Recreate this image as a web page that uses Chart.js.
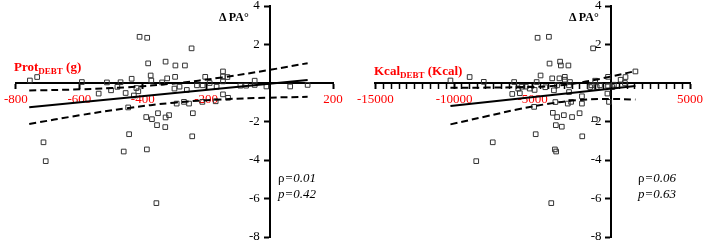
<!DOCTYPE html>
<html>
<head>
<meta charset="utf-8">
<script src="https://cdn.jsdelivr.net/npm/chart.js@4.4.1/dist/chart.umd.min.js"></script>
<style>
  body { margin: 0; background: #fff; }
  #wrap { position: relative; width: 707px; height: 245px; font-family: "Liberation Serif", "Times New Roman", serif; }
  canvas { position: absolute; top: 0; }
  #chart1 { left: 0; }
  #chart2 { left: 353px; }
  .lbl { position: absolute; white-space: nowrap; line-height: 1; }
  .xtitle { color: red; font-weight: bold; font-size: 13px; }
  .xtitle sub { font-size: 9px; vertical-align: -3px; line-height: 0; }
  .ytitle { font-weight: bold; font-size: 12px; color: #000; }
  .stat { font-size: 13px; font-style: italic; color: #000; }
  .stat .rho { font-style: normal; }
</style>
</head>
<body>
<div id="wrap">
  <canvas id="chart1" width="353" height="245"></canvas>
  <canvas id="chart2" width="354" height="245"></canvas>
  <div class="lbl xtitle" style="left:14px; top:60px;">Prot<sub>DEBT</sub> (g)</div>
  <div class="lbl xtitle" style="left:374px; top:64px;">Kcal<sub>DEBT</sub> (Kcal)</div>
  <div class="lbl ytitle" style="left:219px; top:11px;">Δ PA°</div>
  <div class="lbl ytitle" style="left:569px; top:11px;">Δ PA°</div>
  <div class="lbl stat" style="left:278px; top:171px;"><span class="rho">ρ</span>=0.01</div>
  <div class="lbl stat" style="left:278px; top:187px;">p=0.42</div>
  <div class="lbl stat" style="left:638px; top:171px;"><span class="rho">ρ</span>=0.06</div>
  <div class="lbl stat" style="left:638px; top:187px;">p=0.63</div>
</div>
<script>
// Protein debt (g) vs change in phase angle
const protX = [-756, -733, -713, -706, -592, -539, -513, -500, -480, -470,
  -460, -454, -446, -443, -435, -428, -420, -414, -410, -389,
  -387, -386, -383, -375, -373, -371, -357, -355, -352, -339,
  -328, -328, -329, -323, -317, -298, -297, -300, -293, -284,
  -270, -267, -261, -254, -246, -244, -242, -229, -212, -211,
  -203, -189, -170, -167, -147, -147, -133, -147, -147, -131,
  -92, -74, -47, -47, -10, 65, 120];
const protY = [0.13, 0.31, -3.08, -4.06, 0.05, -0.55, 0.03, -0.38, -0.20, 0.04,
  -3.56, -0.52, -1.27, -2.66, 0.22, -0.65, -0.26, -0.43, 2.40, -1.77,
  -3.45, 2.35, 1.02, 0.39, 0.13, -1.88, -6.24, -2.19, -1.57, 0.03,
  1.11, -1.79, -2.29, 0.24, -1.67, 0.32, 0.91, -0.29, -1.07, -0.19,
  -0.98, 0.91, -0.36, -1.07, 1.80, -2.77, -1.57, -0.12, -0.98, -0.12,
  0.32, 0.00, -0.95, -0.19, 0.60, 0.34, 0.31, 0.08, -0.59, -0.77,
  -0.14, -0.14, 0.12, -0.10, -0.18, -0.18, -0.10];

// Energy debt (Kcal) vs change in phase angle
const kcalX = [-10230, -9010, -8590, -8110, -7540, -6300, -6180, -5920, -5820, -5710,
  -5440, -5190, -4910, -4880, -4810, -4750, -4690, -4500, -4200, -3970,
  -3930, -3820, -3760, -3720, -3650, -3560, -3590, -3510, -3530, -3450,
  -3450, -3300, -3260, -3210, -3150, -3020, -2960, -2960, -2770, -2730,
  -2690, -2690, -2630, -2560, -2500, -2020, -1870, -1870, -1850, -1350,
  -1260, -1160, -1050, -1030, -930, -720, -250, -210, -210, -150,
  60, 160, 590, 860, 900, 1530];
const kcalY = [0.13, 0.31, -4.06, 0.06, -3.08, -0.57, 0.05, -0.29, -0.53, -0.19,
  -0.19, -0.29, -1.24, -0.36, -2.66, 0.05, 2.35, 0.39, -0.22, 2.40,
  1.01, -6.24, 0.24, -1.55, -0.38, -0.99, -3.45, -3.56, -2.19, -1.77,
  -0.12, 0.24, 1.11, 0.91, -2.27, -1.67, 0.32, 0.17, -1.07, 0.91,
  -0.47, -0.12, 0.05, -0.98, -1.77, -1.57, -1.07, -0.69, -2.77, -0.21,
  -0.12, 1.80, -1.88, 0.12, -0.21, -0.12, -0.55, 0.32, -0.14, -0.98,
  -0.21, -0.09, 0.17, 0.00, 0.31, 0.60];

// regression line and confidence band
const protFitX = [-758, 120];
const protFitY = [-1.26, 0.15];
const protBandX = [-758, -600, -450, -300, -150, 0, 120];
const protBandUpper = [-0.39, -0.33, -0.22, -0.02, 0.29, 0.68, 1.03];
const protBandLower = [-2.13, -1.68, -1.31, -1.02, -0.85, -0.76, -0.72];

const kcalFitX = [-10230, 1530];
const kcalFitY = [-1.2, -0.15];
const kcalBandX = [-10230, -8000, -6000, -4000, -2000, 0, 1530];
const kcalBandUpper = [-0.25, -0.24, -0.22, -0.17, 0.02, 0.34, 0.62];
const kcalBandLower = [-2.15, -1.74, -1.38, -1.08, -0.88, -0.83, -0.86];

// tick labels
const protTickLabels = [-800, -600, -400, -200, 200];
const kcalTickLabels = [-15000, -10000, -5000, 5000];
const yTickLabels = [4, 2, -2, -4, -6, -8];

const FONT = '"Liberation Serif", "Times New Roman", serif';

function toPoints(xs, ys) {
    return xs.map((x, i) => ({ x: x, y: ys[i] }));
}

function lineSet(xs, ys, dashed) {
    return {
        type: 'line',
        data: toPoints(xs, ys),
        borderColor: '#000',
        borderWidth: 2,
        borderDash: dashed ? [7, 4] : [],
        pointRadius: 0,
        tension: dashed ? 0.4 : 0,
        fill: false
    };
}

function createPanel(id, xs, ys, fitX, fitY, bandX, upper, lower, xMin, xMax, xStep, xLabels, padding) {
    new Chart(document.getElementById(id), {
        type: 'scatter',
        data: {
            datasets: [
                lineSet(fitX, fitY, false),
                lineSet(bandX, upper, true),
                lineSet(bandX, lower, true),
                {
                    data: toPoints(xs, ys),
                    pointStyle: 'rect',
                    pointRadius: 3.3,
                    borderWidth: 1,
                    borderColor: '#333',
                    backgroundColor: 'rgba(255,255,255,0)'
                }
            ]
        },
        options: {
            responsive: false,
            animation: false,
            devicePixelRatio: 1,
            layout: { padding: padding },
            plugins: {
                legend: { display: false },
                tooltip: { enabled: false }
            },
            scales: {
                x: {
                    type: 'linear',
                    min: xMin,
                    max: xMax,
                    position: { y: 0 },
                    ticks: {
                        stepSize: xStep,
                        autoSkip: false,
                        maxRotation: 0,
                        color: 'red',
                        padding: 4,
                        font: { family: FONT, size: 13 },
                        callback: value => xLabels.includes(value) ? String(value) : ''
                    },
                    grid: {
                        drawOnChartArea: false,
                        drawTicks: true,
                        tickLength: 5,
                        tickColor: '#000',
                        tickWidth: ctx => (ctx.tick && ctx.tick.value % (xStep * 10) === 0) || xStep === 200 ? 2 : 1.5
                    },
                    border: { display: true, color: '#000', width: 2 }
                },
                y: {
                    type: 'linear',
                    min: -8,
                    max: 4,
                    position: { x: 0 },
                    ticks: {
                        stepSize: 2,
                        color: '#000',
                        padding: 0,
                        // small lineHeight so the end labels don't push the plot area inward
                        font: { family: FONT, size: 13, lineHeight: 0.6 },
                        // centred axes put the label right on the line, so pad it with spaces
                        callback: value => yTickLabels.includes(value) ? String(value) + '   ' : ''
                    },
                    grid: {
                        drawOnChartArea: false,
                        drawTicks: true,
                        tickLength: 5,
                        tickColor: '#000',
                        tickWidth: 2
                    },
                    border: { display: true, color: '#000', width: 2 }
                }
            }
        }
    });
}

window.addEventListener('DOMContentLoaded', () => {
    createPanel('chart1', protX, protY, protFitX, protFitY, protBandX, protBandUpper, protBandLower,
        -800, 200, 200, protTickLabels, { left: 13, right: 20, top: 6, bottom: 8 });
    createPanel('chart2', kcalX, kcalY, kcalFitX, kcalFitY, kcalBandX, kcalBandUpper, kcalBandLower,
        -15000, 5000, 500, kcalTickLabels, { left: 20, right: 16, top: 6, bottom: 8 });
});
</script>
</body>
</html>
